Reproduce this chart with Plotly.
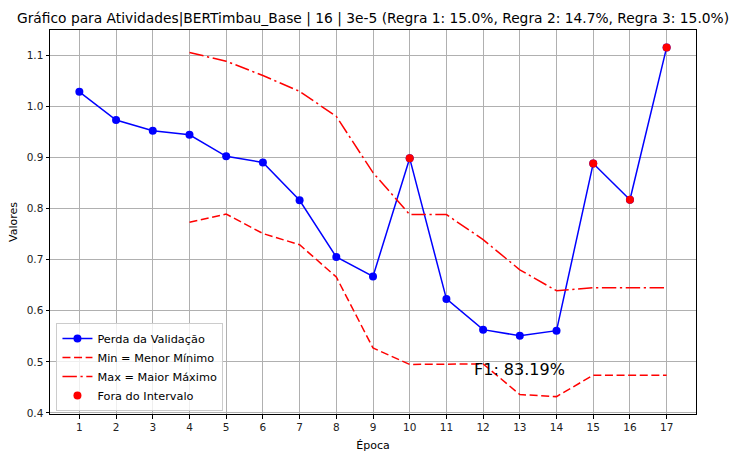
import plotly.graph_objects as go

epochs = list(range(1, 18))
loss = [1.028, 0.973, 0.952, 0.944, 0.902, 0.890, 0.816, 0.705, 0.667, 0.898,
        0.623, 0.563, 0.551, 0.561, 0.888, 0.817, 1.115]
min_epochs = list(range(4, 18))
min_vals = [0.773, 0.789, 0.751, 0.729, 0.666, 0.527, 0.495, 0.495, 0.496,
            0.436, 0.432, 0.474, 0.474, 0.474]
max_vals = [1.105, 1.088, 1.060, 1.029, 0.980, 0.870, 0.788, 0.788, 0.739,
            0.680, 0.639, 0.645, 0.645, 0.645]
out_epochs = [10, 15, 16, 17]
out_vals = [0.898, 0.888, 0.817, 1.115]

title = "Gráfico para Atividades|BERTimbau_Base | 16 | 3e-5 (Regra 1: 15.0%, Regra 2: 14.7%, Regra 3: 15.0%)"
f1_text = "F1: 83.19%"

fig = go.Figure()
fig.add_trace(go.Scatter(x=epochs, y=loss, mode="lines+markers", name="Perda da Validação",
                         line=dict(color="blue", width=1.5), marker=dict(color="blue", size=8)))
fig.add_trace(go.Scatter(x=min_epochs, y=min_vals, mode="lines", name="Min = Menor Mínimo",
                         line=dict(color="red", width=1.5, dash="8px,3.6px")))
fig.add_trace(go.Scatter(x=min_epochs, y=max_vals, mode="lines", name="Max = Maior Máximo",
                         line=dict(color="red", width=1.5, dash="14.4px,3.6px,2.25px,3.6px")))
fig.add_trace(go.Scatter(x=out_epochs, y=out_vals, mode="markers", name="Fora do Intervalo",
                         marker=dict(color="red", size=8)))

fig.add_annotation(text=f1_text, xref="paper", yref="paper", x=0.654, y=0.117,
                   xanchor="left", yanchor="middle", showarrow=False,
                   font=dict(size=16, color="black"))

axis_common = dict(showline=True, linecolor="black", linewidth=1, mirror=True,
                   showgrid=True, gridcolor="#b0b0b0", gridwidth=0.8,
                   ticks="outside", ticklen=3.5, tickcolor="black",
                   tickfont=dict(size=10.5, color="#222"), zeroline=False,
                   automargin=False)

fig.update_xaxes(range=[0.2, 17.8], tickvals=epochs,
                 title=dict(text="Época", font=dict(size=11), standoff=11),
                 **axis_common)
fig.update_yaxes(range=[0.398, 1.149], dtick=0.1, tickformat=".1f",
                 title=dict(text="Valores", font=dict(size=11), standoff=6), **axis_common)

fig.update_layout(
    width=730, height=452,
    margin=dict(l=50, r=34, t=30, b=38),
    paper_bgcolor="white", plot_bgcolor="white",
    font=dict(family="DejaVu Sans", color="black"),
    title=dict(text=title, x=0.511, xanchor="center", y=1 - 18 / 452, yanchor="middle",
               yref="container", font=dict(size=13.8)),
    legend=dict(x=0.01, y=0.008, xanchor="left", yanchor="bottom",
                bgcolor="rgba(255,255,255,0.8)", bordercolor="#cccccc", borderwidth=1,
                font=dict(size=11.3), tracegroupgap=0, itemwidth=30),
    showlegend=True,
)

fig.write_html("out.html")
